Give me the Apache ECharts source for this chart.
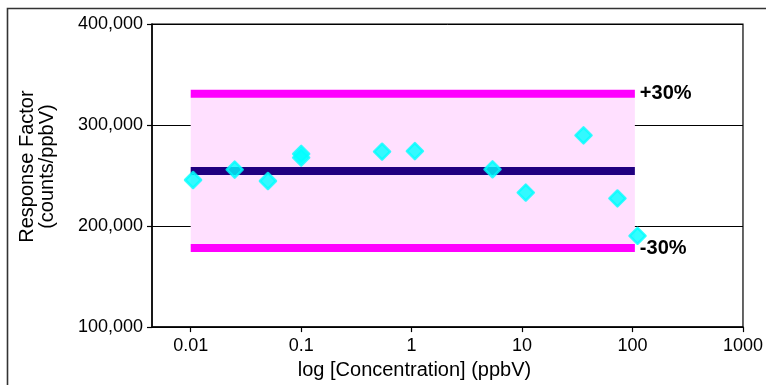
<!DOCTYPE html>
<html>
<head>
<meta charset="utf-8">
<script src="https://cdn.jsdelivr.net/npm/echarts@6/dist/echarts.min.js"></script>
<style>html,body{margin:0;padding:0;background:#fff;}#c{width:766px;height:385px;}</style>
</head>
<body>
<div id="c"></div>
<script>
// ---- data ----
const concentrations = [0.0105, 0.025, 0.05, 0.1, 0.1, 0.54, 1.07, 5.4, 10.8, 36, 73, 111];
const responseFactors = [245600, 255900, 244600, 271400, 267800, 273600, 274200, 256200, 233200, 289700, 227300, 190400];
const meanRF = 254500;
const upperLimit = 331000;   // +30%
const lowerLimit = 178200;   // -30%
const limitRange = [0.01, 105];
const xTickValues = [0.01, 0.1, 1, 10, 100, 1000];
const xTickLabels = ['0.01', '0.1', '1', '10', '100', '1000'];
const yTickLabels = ['100,000', '200,000', '300,000', '400,000'];

const FONT = 'Liberation Sans, Arial, sans-serif';
const chart = echarts.init(document.getElementById('c'), null, {renderer: 'canvas'});

function xLabel(v) {
  let best = 0, bd = Infinity;
  xTickValues.forEach((t, i) => { const d = Math.abs(Math.log10(t) - Math.log10(v)); if (d < bd) { bd = d; best = i; } });
  return xTickLabels[best];
}
function yLabel(v) {
  const i = Math.round((v - 100000) / 100000);
  return yTickLabels[i] !== undefined ? yTickLabels[i] : '';
}

const endLabelStyle = (txt) => ({
  show: true, formatter: txt, distance: 5,
  color: '#000', fontFamily: FONT, fontWeight: 'bold', fontSize: 20
});

chart.setOption({
  animation: false,
  backgroundColor: '#fff',
  grid: {left: 152, right: 19, top: 24, bottom: 57, show: true, borderColor: '#000', borderWidth: 1.2, backgroundColor: 'transparent'},
  graphic: [{
    type: 'rect', shape: {x: 7.5, y: 8.5, width: 900, height: 500},
    style: {fill: null, stroke: '#333', lineWidth: 1.6}, z: 100, silent: true
  }],
  xAxis: {
    type: 'log', logBase: 10, min: 0.00446, max: 1000,
    name: 'log [Concentration] (ppbV)', nameLocation: 'middle', nameGap: 31,
    nameTextStyle: {color: '#000', fontFamily: FONT, fontSize: 20, padding: [0, 66, 0, 0]},
    axisLine: {show: true, lineStyle: {color: '#000', width: 1.5}},
    axisTick: {show: true, length: 5, customValues: xTickValues, lineStyle: {color: '#000', width: 1.2}},
    axisLabel: {customValues: xTickValues, formatter: xLabel, margin: 10, color: '#000', fontFamily: FONT, fontSize: 18},
    splitLine: {show: false}, minorTick: {show: false}
  },
  yAxis: {
    type: 'value', min: 100000, max: 400000, interval: 100000,
    name: 'Response Factor\n(counts/ppbV)', nameLocation: 'middle', nameGap: 95, nameRotate: 90,
    nameTextStyle: {color: '#000', fontFamily: FONT, fontSize: 20, lineHeight: 20, padding: [0, 0, 0, 18]},
    axisLine: {show: true, lineStyle: {color: '#000', width: 1.5}},
    axisTick: {show: true, length: 5, lineStyle: {color: '#000', width: 1.2}},
    axisLabel: {formatter: yLabel, margin: 9, color: '#000', fontFamily: FONT, fontSize: 18},
    splitLine: {show: true, lineStyle: {color: '#000', width: 1}}
  },
  series: [
    {
      type: 'line', name: 'band', data: [[limitRange[0], lowerLimit], [limitRange[1], lowerLimit]],
      showSymbol: false, lineStyle: {opacity: 0}, z: 1, silent: true,
      markArea: {silent: true, itemStyle: {color: '#FFE0FF'},
        data: [[{coord: [limitRange[0], lowerLimit]}, {coord: [limitRange[1], upperLimit]}]]}
    },
    {
      type: 'line', name: 'upper', data: [[limitRange[0], upperLimit], [limitRange[1], upperLimit]],
      showSymbol: false, lineStyle: {color: '#FF00FF', width: 8, cap: 'butt'}, z: 2, silent: true,
      endLabel: endLabelStyle('+30%')
    },
    {
      type: 'line', name: 'lower', data: [[limitRange[0], lowerLimit], [limitRange[1], lowerLimit]],
      showSymbol: false, lineStyle: {color: '#FF00FF', width: 8, cap: 'butt'}, z: 2, silent: true,
      endLabel: endLabelStyle('-30%')
    },
    {
      type: 'line', name: 'mean', data: [[limitRange[0], meanRF], [limitRange[1], meanRF]],
      showSymbol: false, lineStyle: {color: '#200080', width: 8, cap: 'butt'}, z: 2, silent: true
    },
    {
      type: 'scatter', name: 'RF', data: concentrations.map((c, i) => [c, responseFactors[i]]),
      symbol: 'diamond', symbolSize: 16,
      itemStyle: {color: '#00FFFF', borderColor: '#00FFFF', borderWidth: 2.5, borderJoin: 'round'}, z: 3
    }
  ]
});
</script>
</body>
</html>
